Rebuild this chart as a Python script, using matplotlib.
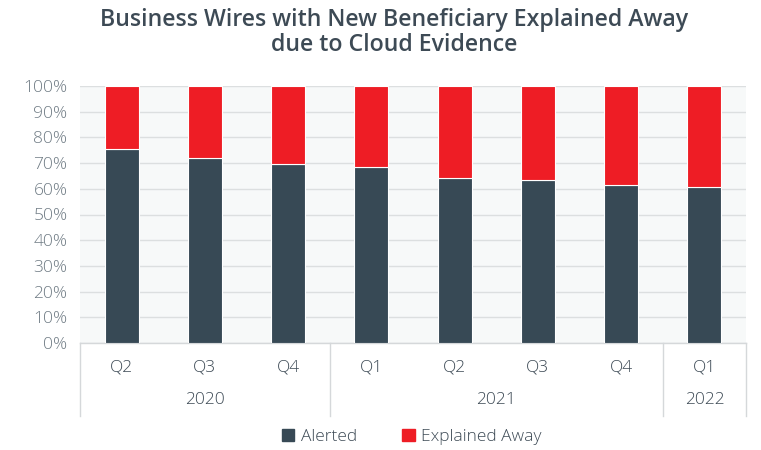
import matplotlib
matplotlib.use("Agg")
import matplotlib.pyplot as plt
from matplotlib.ticker import FuncFormatter
from matplotlib.lines import Line2D
from matplotlib.patches import Patch

quarters = ["Q2", "Q3", "Q4", "Q1", "Q2", "Q3", "Q4", "Q1"]
years = ["2020", "2021", "2022"]
year_counts = [3, 4, 1]
alerted = [75.5, 72.0, 69.5, 68.6, 64.1, 63.3, 61.5, 60.6]
explained = [100 - a for a in alerted]

plt.rcParams['font.family'] = ['Open Sans', 'DejaVu Sans']

dark = "#374955"
red = "#ee1d25"
text_c = "#3d4a55"
tick_c = "#6f7b84"
lw_text = "light"

fig = plt.figure(figsize=(7.61, 4.5), dpi=100)
ax = fig.add_axes([80/761, 1-343/450, (746-80)/761, (343-86)/450])
ax.set_facecolor("#f7f9f9")
x = list(range(len(quarters)))
w = 0.41
ax.bar(x, alerted, width=w, color=dark, edgecolor="white", linewidth=0.8, zorder=3, label="Alerted")
ax.bar(x, explained, width=w, bottom=alerted, color=red, edgecolor="white", linewidth=0.8, zorder=3, label="Explained Away")
ax.set_xlim(-0.5, len(quarters) - 0.5)
ax.set_ylim(0, 100)
ax.set_yticks(range(0, 101, 10))
ax.yaxis.set_major_formatter(FuncFormatter(lambda v, p: f"{int(v)}%"))
ax.grid(axis="y", color="#dcdfe0", linewidth=1.0, zorder=0)
for s in ["top", "right", "left"]:
    ax.spines[s].set_visible(False)
ax.spines["bottom"].set_color("#d5d8da")
ax.spines["bottom"].set_linewidth(1.0)
ax.tick_params(axis="y", length=0, labelsize=12.5, labelcolor=tick_c, pad=9)
for lab in ax.get_yticklabels():
    lab.set_fontweight(lw_text)
ax.set_xticks([])

# category labels
trans = ax.get_xaxis_transform()
for i, q in enumerate(quarters):
    ax.text(i, -0.095, q, transform=trans, ha="center", va="center", fontsize=12.5,
            color=text_c, fontweight=lw_text)
start = 0
bounds = [-0.5]
for y, n in zip(years, year_counts):
    ax.text(start + (n - 1) / 2, -0.222, y, transform=trans, ha="center", va="center", fontsize=12.5,
            color=text_c, fontweight=lw_text)
    start += n
    bounds.append(start - 0.5)
for b in bounds:
    ax.add_line(Line2D([b, b], [0, -0.284], transform=trans, color="#d5d8da", linewidth=1.0, clip_on=False))

fig.text(394/761, 1-20/450, "Business Wires with New Beneficiary Explained Away", ha="center", va="center",
         fontsize=16.7, fontweight="semibold", color=text_c)
fig.text(394/761, 1-45/450, "due to Cloud Evidence", ha="center", va="center",
         fontsize=16.7, fontweight="semibold", color=text_c)

handles = [Patch(color=dark), Patch(color=red)]
leg = fig.legend(handles, ["Alerted", "Explained Away"], loc="center", bbox_to_anchor=(412/761, 1-437/450),
           ncol=2, frameon=False, fontsize=12.5, labelcolor=text_c, handlelength=0.7, handleheight=0.7,
           handletextpad=0.4, columnspacing=2.6)
for t in leg.get_texts():
    t.set_fontweight(lw_text)

fig.savefig("out.png", dpi=100)
